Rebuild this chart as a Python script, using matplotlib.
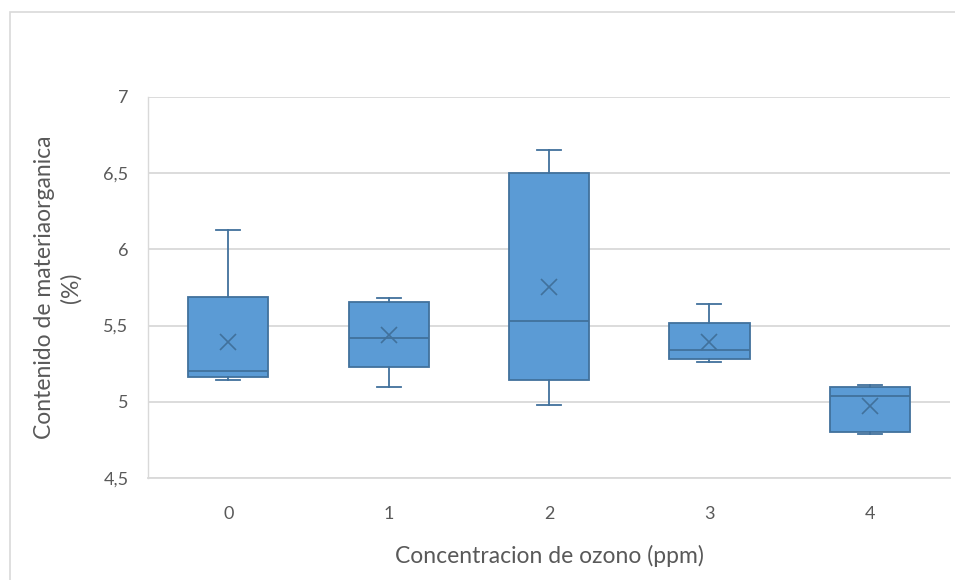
import matplotlib
matplotlib.use("Agg")
import matplotlib.pyplot as plt
from matplotlib.patches import Rectangle

plt.rcParams['font.family'] = ['Lato', 'DejaVu Sans']

# Ozone concentration groups and the summary statistics of each box
categories = ["0", "1", "2", "3", "4"]
whisker_low = [5.14, 5.10, 4.98, 5.26, 4.79]
q1 = [5.165, 5.23, 5.14, 5.28, 4.80]
median = [5.20, 5.42, 5.53, 5.34, 5.04]
q3 = [5.69, 5.655, 6.50, 5.52, 5.10]
whisker_high = [6.13, 5.68, 6.65, 5.64, 5.11]
mean = [5.39, 5.44, 5.755, 5.39, 4.97]

y_ticks = [4.5, 5, 5.5, 6, 6.5, 7]
y_tick_labels = ["4,5", "5", "5,5", "6", "6,5", "7"]

fill = "#5B9BD5"
edge = "#41719C"
grid = "#D9D9D9"
text_col = "#595959"

fig = plt.figure(figsize=(9.55, 5.8), dpi=100)
ax = fig.add_axes([148 / 955, 1 - 478 / 580, (950 - 148) / 955, (478 - 97) / 580])

stats = []
for i, c in enumerate(categories):
    stats.append(dict(label=c, whislo=whisker_low[i], q1=q1[i], med=median[i],
                      q3=q3[i], whishi=whisker_high[i], mean=mean[i], fliers=[]))

ax.bxp(stats, positions=range(len(categories)), widths=0.5, patch_artist=True,
       showmeans=True, showfliers=False,
       boxprops=dict(facecolor=fill, edgecolor=edge, linewidth=1.3),
       medianprops=dict(color=edge, linewidth=1.3),
       whiskerprops=dict(color=edge, linewidth=1.3),
       capprops=dict(color=edge, linewidth=1.3),
       capwidths=0.15,
       meanprops=dict(marker="x", markeredgecolor=edge, markersize=12,
                      markeredgewidth=1.2))

ax.set_xlim(-0.5, len(categories) - 0.5)
ax.set_ylim(4.5, 7)
ax.set_yticks(y_ticks)
ax.set_yticklabels(y_tick_labels)
ax.yaxis.grid(True, color=grid, linewidth=1.3)
ax.set_axisbelow(True)

for s in ["top", "right"]:
    ax.spines[s].set_visible(False)
ax.spines["left"].set_color(grid)
ax.spines["bottom"].set_color(grid)
ax.spines["left"].set_linewidth(1.0)
ax.spines["bottom"].set_linewidth(1.3)

ax.tick_params(axis="both", length=0, labelsize=13, colors=text_col)
ax.tick_params(axis="x", pad=20)
ax.tick_params(axis="y", pad=14)

ax.set_xlabel("Concentracion de ozono (ppm)", fontsize=16.5, color=text_col, labelpad=17)
ax.set_ylabel("Contenido de materiaorganica\n(%)", fontsize=16.5, color=text_col,
              labelpad=16, linespacing=1.25)

# light frame around the chart
fig.patches.append(Rectangle((10 / 955, -0.1), 1.2, 1 - 12 / 580 + 0.1,
                             transform=fig.transFigure, fill=False,
                             edgecolor="#D9D9D9", linewidth=1.2))

fig.savefig("out.png", dpi=100)
